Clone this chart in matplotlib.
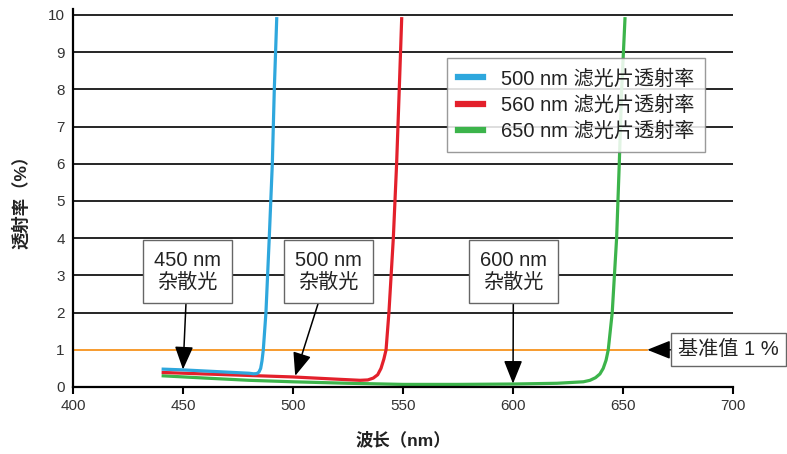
import matplotlib
matplotlib.use("Agg")
import matplotlib.pyplot as plt

plt.rcParams['font.family'] = ['Liberation Sans', 'Noto Sans CJK SC', 'DejaVu Sans']

# transmission curves (wavelength nm, transmittance %)
blue_wl = [441, 450, 460, 470, 480, 482, 483.5, 484.5, 485.3, 485.9, 486.5, 487.7, 489.2, 490.6, 491.5, 492.6]
blue_t = [0.48, 0.46, 0.43, 0.40, 0.37, 0.355, 0.36, 0.40, 0.5, 0.7, 1.0, 2.0, 4.0, 6.0, 8.0, 9.9]

red_wl = [441, 460, 480, 500, 520, 530.5, 534, 536.5, 538.5, 540, 541.3, 542.3, 543.6, 545.6, 547.1, 548.3, 549.4]
red_t = [0.39, 0.35, 0.31, 0.27, 0.21, 0.18, 0.19, 0.24, 0.33, 0.5, 0.75, 1.0, 2.0, 4.0, 6.0, 8.0, 9.9]

green_wl = [441, 460, 480, 500, 525, 550, 575, 600, 620, 632, 635, 637.5, 639.5, 641, 642.3, 643.3,
            645.1, 647.1, 648.3, 649.4, 650.9]
green_t = [0.30, 0.24, 0.18, 0.14, 0.10, 0.07, 0.07, 0.08, 0.10, 0.14, 0.18, 0.25, 0.35, 0.5, 0.72, 1.0,
           2.0, 4.0, 6.0, 8.0, 9.9]

# 1 % reference level (orange line, no black grid line under it)
ref_wl = [400, 661]
ref_t = [1, 1]

labels = ['500 nm 滤光片透射率', '560 nm 滤光片透射率', '650 nm 滤光片透射率']
colors = ['#2ea7dd', '#e3202b', '#3cb44b']

x_ticks = [400, 450, 500, 550, 600, 650, 700]
y_ticks = list(range(0, 11))

fig = plt.figure(figsize=(7.87, 4.54), dpi=100)
ax = fig.add_axes([73 / 787, 1 - 387 / 454, 660 / 787, 377.6 / 454])

ax.set_xlim(400, 700)
ax.set_ylim(0, 10.15)

for y in y_ticks:
    if y in (0, 1):
        continue
    ax.axhline(y, color='black', lw=1.2, zorder=1)

ax.plot(ref_wl, ref_t, color='#f7931e', lw=1.3, zorder=2)
ax.plot(green_wl, green_t, color=colors[2], lw=2.3, label=labels[2], zorder=3)
ax.plot(red_wl, red_t, color=colors[1], lw=2.3, label=labels[1], zorder=4)
ax.plot(blue_wl, blue_t, color=colors[0], lw=2.3, label=labels[0], zorder=5)

for side in ['top', 'right']:
    ax.spines[side].set_visible(False)
for side in ['left', 'bottom']:
    ax.spines[side].set_linewidth(1.6)
    ax.spines[side].set_zorder(6)

ax.set_xticks(x_ticks)
ax.set_yticks(y_ticks)
ax.tick_params(axis='x', length=5, width=1.5, labelsize=11, labelcolor='#333333', pad=4)
ax.tick_params(axis='y', length=0, labelsize=11, labelcolor='#333333', pad=6)

ax.set_xlabel('波长（nm）', fontsize=12.5, fontweight='bold', color='#222222')
ax.set_ylabel('透射率（%）', fontsize=12.5, fontweight='bold', color='#222222')
ax.xaxis.set_label_coords(0.5, -0.118)
ax.yaxis.set_label_coords(-0.066, 0.5)

handles, labs = ax.get_legend_handles_labels()
order = [2, 1, 0]
leg = ax.legend([handles[i] for i in order], [labs[i] for i in order],
                loc='upper left', bbox_to_anchor=(0.567, 0.871), borderaxespad=0,
                fontsize=14.5, fancybox=False, edgecolor='#888888', framealpha=0.85,
                handlelength=1.25, handletextpad=0.85, labelspacing=0.35, borderpad=0.55)
leg.get_frame().set_linewidth(1.0)
for line in leg.get_lines():
    line.set_linewidth(4.5)
for t in leg.get_texts():
    t.set_color('#222222')
leg.set_zorder(7)

box = dict(boxstyle='square,pad=0.55', fc='white', ec='#666666', lw=1.0)
arrow = dict(arrowstyle='-|>,head_length=0.95,head_width=0.38', color='black', lw=1.1,
             mutation_scale=15, shrinkA=0, shrinkB=0)

ax.annotate('450 nm\n杂散光', xy=(450, 0.47), xytext=(452, 3.1), ha='center', va='center',
            fontsize=14.5, linespacing=1.2, color='#222222', bbox=box, arrowprops=arrow, zorder=8)
ax.annotate('500 nm\n杂散光', xy=(501, 0.3), xytext=(516, 3.1), ha='center', va='center',
            fontsize=14.5, linespacing=1.2, color='#222222', bbox=box, arrowprops=arrow, zorder=8)
ax.annotate('600 nm\n杂散光', xy=(600, 0.09), xytext=(600.2, 3.1), ha='center', va='center',
            fontsize=14.5, linespacing=1.2, color='#222222', bbox=box, arrowprops=arrow, zorder=8)
ax.annotate('基准值 1 %', xy=(661, 1), xytext=(698, 1), ha='center', va='center',
            fontsize=14.5, color='#222222',
            bbox=dict(boxstyle='square,pad=0.35', fc='white', ec='#666666', lw=1.0),
            arrowprops=arrow, zorder=8, annotation_clip=False)

fig.savefig('out.png', dpi=100)
